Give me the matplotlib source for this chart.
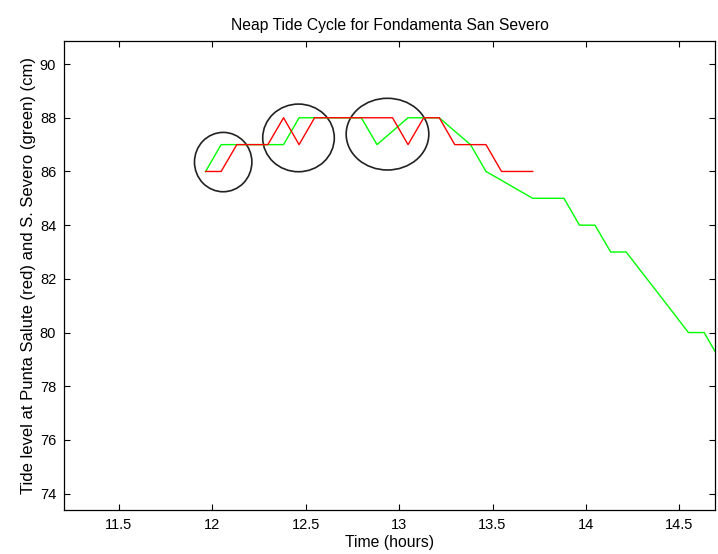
import numpy as np
import matplotlib
matplotlib.use("Agg")
import matplotlib.pyplot as plt
from matplotlib.patches import Ellipse

# Dados (intervalos de 5 minutos)
time_hours = [11.965, 12.048, 12.132, 12.215, 12.298, 12.382, 12.465, 12.548,
              12.632, 12.715, 12.798, 12.882, 12.965, 13.048, 13.132, 13.215,
              13.298, 13.382, 13.465, 13.548, 13.632, 13.715, 13.798, 13.882,
              13.965, 14.048, 14.132, 14.215, 14.298, 14.382, 14.465, 14.548,
              14.632, 14.715]

# Punta Salute (vermelho)
salute_level = [86, 86, 87, 87, 87, 88, 87, 88, 88, 88, 88, 88, 88, 87, 88, 88,
                87, 87, 87, 86, 86, 86]

# S. Severo (verde)
severo_level = [86, 87, 87, 87, 87, 87, 88, 88, 88, 88, 88, 87, 87.5, 88, 88, 88,
                87.5, 87, 86, 85.67, 85.33, 85, 85, 85, 84, 84, 83, 83, 82.25,
                81.5, 80.75, 80, 80, 79]

# Círculos desenhados à mão (centro x, centro y, largura, altura)
circle_x = [12.059, 12.462, 12.938]
circle_y = [86.35, 87.25, 87.39]
circle_w = [0.307, 0.383, 0.442]
circle_h = [2.21, 2.52, 2.67]

x_ticks = [11.5, 12, 12.5, 13, 13.5, 14, 14.5]
y_ticks = [74, 76, 78, 80, 82, 84, 86, 88, 90]

plt.rcParams['font.family'] = ['Liberation Sans', 'DejaVu Sans']

fig = plt.figure(figsize=(7.18, 5.54), dpi=100)
ax = fig.add_axes([0.0898, 0.0794, 0.906, 0.8471])

ax.plot(time_hours, severo_level, color=(0, 1, 0), lw=1.0)
ax.plot(time_hours[:len(salute_level)], salute_level, color=(1, 0, 0), lw=1.0)

for cx, cy, w, h in zip(circle_x, circle_y, circle_w, circle_h):
    ax.add_patch(Ellipse((cx, cy), w, h, fill=False, edgecolor='#222222', lw=1.2))

ax.set_xlim(11.21, 14.69)
ax.set_ylim(73.39, 90.87)
ax.set_xticks(x_ticks)
ax.set_xticklabels(['11.5', '12', '12.5', '13', '13.5', '14', '14.5'])
ax.set_yticks(y_ticks)
ax.tick_params(direction='in', length=4, width=0.8, top=True, right=True,
               labelsize=10.5, colors='black', pad=6)
for s in ax.spines.values():
    s.set_linewidth(0.9)

ax.set_title('Neap Tide Cycle for Fondamenta San Severo', fontsize=11.3, pad=8)
ax.set_xlabel('Time (hours)', fontsize=11.3, labelpad=2)
ax.set_ylabel('Tide level at Punta Salute (red) and S. Severo (green) (cm)',
              fontsize=12, labelpad=3)

fig.savefig('out.png', dpi=100)
